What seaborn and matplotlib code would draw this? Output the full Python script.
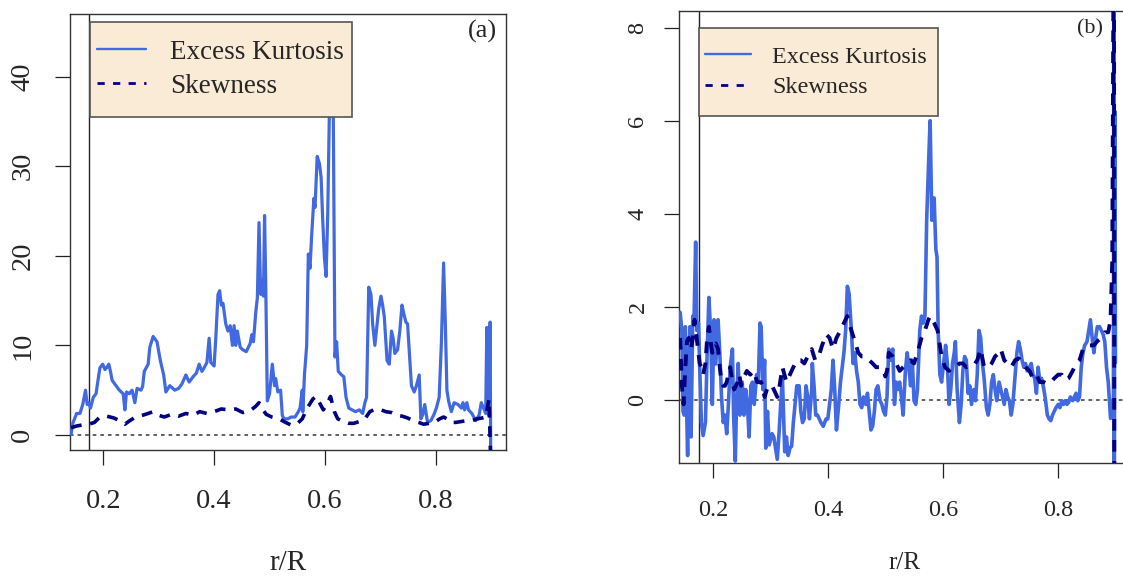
import numpy as np
import matplotlib
matplotlib.use("Agg")
import matplotlib.pyplot as plt
from matplotlib.patches import Rectangle
import seaborn as sns

# ---------------- data ----------------
# Panel (a)
a_kurt_x = [0.142,0.145,0.152,0.158,0.163,0.168,0.171,0.174,0.177,0.182,0.187,0.190,0.194,0.199,0.203,0.206,0.210,0.213,0.216,0.223,
            0.229,0.236,0.239,0.242,0.247,0.252,0.257,0.261,0.268,0.271,0.274,0.281,0.284,0.290,0.297,0.303,0.309,0.313,0.320,0.329,
            0.336,0.342,0.349,0.355,0.362,0.368,0.373,0.378,0.382,0.387,0.391,0.394,0.400,0.403,0.407,0.410,0.413,0.416,0.421,0.425,
            0.429,0.433,0.436,0.439,0.442,0.447,0.452,0.458,0.465,0.468,0.471,0.475,0.478,0.481,0.484,0.486,0.489,0.491,0.493,0.496,
            0.500,0.505,0.509,0.511,0.515,0.520,0.523,0.526,0.533,0.539,0.546,0.552,0.555,0.559,0.560,0.563,0.567,0.570,0.573,0.576,
            0.580,0.582,0.586,0.590,0.593,0.596,0.599,0.602,0.605,0.608,0.611,0.615,0.618,0.621,0.624,0.630,0.634,0.638,0.643,0.649,
            0.655,0.662,0.668,0.672,0.675,0.679,0.683,0.686,0.690,0.694,0.697,0.701,0.704,0.707,0.712,0.716,0.720,0.723,0.726,0.731,
            0.735,0.739,0.742,0.746,0.749,0.752,0.756,0.761,0.765,0.770,0.773,0.776,0.780,0.785,0.791,0.796,0.801,0.806,0.810,0.814,
            0.817,0.820,0.823,0.828,0.833,0.840,0.846,0.849,0.852,0.856,0.859,0.865,0.872,0.878,0.882,0.886,0.890,0.892,0.895,0.898,0.899]
a_kurt_y = [0.1,1.3,2.4,2.4,3.4,5.0,3.4,3.6,3.0,4.2,4.6,5.9,7.5,7.9,7.3,7.5,7.9,7.1,6.1,5.5,
            5.0,4.6,2.8,4.8,4.6,5.0,3.6,5.2,5.0,5.4,7.1,7.9,9.8,11.0,10.4,8.3,6.7,4.8,5.5,5.0,
            5.2,5.7,6.7,5.9,6.5,6.9,7.9,7.1,7.5,8.1,10.8,8.1,7.7,10.8,15.7,16.1,14.5,14.7,12.4,11.6,
            12.2,10.0,12.2,10.0,11.6,9.8,9.5,9.3,10.2,11.2,10.4,13.6,15.3,23.7,15.7,17.3,15.5,24.5,17.3,3.8,
            4.6,7.9,5.5,6.3,4.8,5.0,2.2,1.8,1.8,2.0,2.0,2.6,3.0,5.0,2.6,6.7,10.0,20.2,18.6,22.3,
            26.4,25.4,31.1,30.3,28.8,23.9,19.8,17.7,24.7,36.2,40.0,36.0,8.7,10.4,7.1,6.7,6.5,4.2,3.0,2.8,
            2.6,2.8,2.4,3.6,4.2,16.5,15.7,12.4,10.0,12.4,14.1,15.5,14.5,13.2,8.3,7.9,11.6,10.8,9.1,9.5,
            11.6,14.5,13.6,12.6,12.4,9.5,5.5,4.8,5.5,6.7,1.8,2.2,3.4,1.4,1.6,2.2,3.0,4.2,10.2,19.2,
            12.8,5.0,3.8,2.6,3.6,3.4,3.0,3.6,2.8,3.6,2.8,2.4,1.6,2.2,3.6,3.0,2.4,12.0,2.2,12.6,-3.0]

a_skew_x = [0.142,0.152,0.161,0.174,0.184,0.194,0.206,0.219,0.229,0.239,0.248,0.258,0.271,0.281,0.290,0.300,0.310,0.323,0.336,0.349,
            0.362,0.374,0.387,0.400,0.413,0.426,0.439,0.452,0.465,0.475,0.481,0.487,0.494,0.504,0.517,0.529,0.539,0.549,0.559,0.568,
            0.578,0.584,0.591,0.597,0.604,0.610,0.617,0.623,0.633,0.643,0.652,0.662,0.672,0.681,0.691,0.701,0.710,0.720,0.730,0.739,
            0.749,0.759,0.769,0.778,0.788,0.797,0.807,0.814,0.820,0.827,0.836,0.846,0.856,0.865,0.875,0.884,0.890,0.896,0.899]
a_skew_y = [0.8,1.0,1.1,1.2,1.4,2.0,2.1,1.9,1.6,1.2,1.6,2.0,2.2,2.4,2.6,2.2,2.0,2.3,2.1,2.4,
            2.2,2.6,2.4,2.6,2.9,2.8,2.9,2.5,2.7,3.2,3.6,2.9,2.3,2.0,1.8,1.4,1.1,1.2,1.8,3.0,
            4.0,4.3,3.5,2.8,3.5,4.3,2.6,1.8,1.5,1.3,1.3,1.5,1.8,2.6,2.9,2.8,2.6,2.5,2.2,2.1,
            1.9,1.6,1.4,1.2,1.3,1.4,1.8,2.0,1.8,1.4,1.4,1.5,1.6,1.6,1.8,1.9,2.0,4.0,-3.0]

# Panel (b)
b_kurt_x = [0.142,0.145,0.147,0.149,0.151,0.153,0.155,0.157,0.159,0.161,0.164,0.166,0.169,0.171,0.174,0.176,0.179,0.182,0.186,0.189,
            0.192,0.195,0.198,0.201,0.204,0.208,0.211,0.214,0.217,0.220,0.223,0.226,0.229,0.233,0.235,0.238,0.240,0.243,0.246,0.250,
            0.253,0.256,0.259,0.262,0.265,0.268,0.271,0.275,0.278,0.281,0.283,0.286,0.289,0.291,0.294,0.297,0.302,0.305,0.308,0.311,
            0.314,0.317,0.320,0.324,0.327,0.330,0.333,0.336,0.339,0.342,0.345,0.349,0.352,0.355,0.358,0.361,0.364,0.367,0.371,0.372,
            0.375,0.378,0.381,0.384,0.387,0.391,0.396,0.399,0.402,0.405,0.408,0.411,0.414,0.418,0.421,0.424,0.427,0.430,0.433,0.436,
            0.440,0.443,0.446,0.449,0.452,0.455,0.458,0.461,0.465,0.468,0.471,0.474,0.477,0.480,0.483,0.486,0.490,0.493,0.496,0.499,
            0.502,0.505,0.508,0.512,0.515,0.518,0.521,0.524,0.527,0.530,0.534,0.537,0.540,0.543,0.546,0.549,0.552,0.555,0.559,0.562,
            0.565,0.568,0.571,0.574,0.577,0.580,0.584,0.587,0.589,0.591,0.594,0.597,0.601,0.604,0.607,0.610,0.613,0.616,0.619,0.621,
            0.624,0.628,0.631,0.634,0.637,0.640,0.643,0.646,0.649,0.653,0.656,0.659,0.662,0.665,0.668,0.671,0.675,0.678,0.681,0.684,
            0.687,0.690,0.693,0.697,0.700,0.703,0.706,0.709,0.712,0.715,0.718,0.721,0.725,0.728,0.731,0.734,0.737,0.740,0.743,0.746,
            0.750,0.753,0.756,0.759,0.762,0.765,0.768,0.771,0.775,0.778,0.781,0.784,0.787,0.790,0.793,0.796,0.800,0.803,0.806,0.809,
            0.812,0.815,0.818,0.821,0.825,0.828,0.831,0.834,0.837,0.840,0.843,0.846,0.850,0.853,0.856,0.859,0.862,0.865,0.868,0.872,
            0.875,0.878,0.881,0.884,0.887,0.891,0.894,0.896,0.897,0.8975,0.8985,0.8995]
b_kurt_y = [1.88,1.49,-0.25,-0.33,1.57,0.0,-1.2,0.70,1.57,-0.80,1.80,1.65,3.39,1.49,1.65,0.70,-0.49,-0.77,-0.49,1.0,
            2.20,1.49,-0.10,1.72,0.77,1.72,1.01,0.06,-0.49,-0.33,-0.73,-0.10,0.70,1.09,-0.33,-1.32,-0.10,0.78,-0.33,0.38,
            -0.33,0.22,-0.10,-0.80,0.30,0.38,-0.10,0.54,0.38,1.65,1.57,0.22,0.85,-1.04,-0.25,-0.97,-0.73,-0.80,-1.04,-1.28,
            -0.73,-0.10,0.46,-1.12,-0.80,-1.20,-1.04,-1.00,-0.49,-0.10,0.30,0.30,-0.25,-0.49,-0.41,0.30,0.06,-0.41,0.22,0.78,
            0.30,-0.33,-0.33,-0.41,-0.49,-0.57,-0.41,-0.41,-0.10,0.22,0.85,0.22,-0.65,-0.10,0.38,0.70,1.01,1.49,2.44,2.28,
            1.49,0.78,1.01,0.62,0.38,-0.10,-0.17,0.06,-0.10,0.14,-0.25,-0.65,-0.57,-0.25,0.22,0.30,-0.02,-0.10,-0.25,-0.33,
            0.06,1.09,0.85,1.09,-0.10,0.38,0.22,0.38,0.06,-0.33,0.62,1.01,0.70,0.30,0.85,-0.02,-0.10,0.22,1.49,1.80,
            1.65,1.80,3.86,4.97,6.00,3.86,4.34,3.23,3.07,1.49,0.54,0.38,0.85,1.17,0.78,-0.10,0.22,0.78,1.01,1.25,
            0.22,-0.49,-0.10,0.62,0.93,0.85,0.14,0.30,-0.10,0.22,-0.02,0.54,1.49,1.33,0.78,0.46,-0.17,-0.33,-0.10,0.38,
            0.54,0.22,-0.02,0.38,0.22,0.06,-0.10,0.22,0.06,-0.02,-0.33,-0.10,0.54,1.01,1.25,1.09,0.85,0.70,0.78,0.62,
            0.70,0.78,0.54,0.46,0.14,0.70,0.38,0.46,0.22,-0.02,-0.33,-0.41,-0.45,-0.33,-0.25,-0.17,-0.10,-0.17,-0.02,-0.10,
            -0.02,-0.10,-0.06,0.06,-0.02,0.06,0.14,-0.02,0.06,0.70,1.01,1.17,1.25,1.49,1.72,1.33,1.01,1.33,1.57,1.57,
            1.49,1.41,1.25,0.70,0.38,-0.40,-0.33,0.06,12.0,-2.5,6.2,0.8]

b_skew_x = [0.142,0.145,0.148,0.151,0.154,0.157,0.161,0.164,0.167,0.170,0.173,0.176,0.179,0.182,0.186,0.189,0.192,0.195,0.198,0.201,
            0.204,0.208,0.211,0.214,0.217,0.220,0.223,0.226,0.229,0.233,0.236,0.239,0.242,0.245,0.248,0.251,0.255,0.258,0.264,0.270,
            0.276,0.283,0.286,0.289,0.295,0.302,0.308,0.311,0.314,0.320,0.327,0.333,0.339,0.345,0.352,0.358,0.364,0.371,0.377,0.383,
            0.389,0.396,0.402,0.408,0.414,0.421,0.427,0.433,0.440,0.446,0.452,0.458,0.465,0.471,0.477,0.483,0.490,0.496,0.499,0.502,
            0.505,0.512,0.518,0.524,0.530,0.537,0.543,0.549,0.555,0.562,0.568,0.574,0.577,0.584,0.590,0.597,0.603,0.610,0.616,0.621,
            0.628,0.634,0.640,0.646,0.653,0.659,0.665,0.671,0.678,0.684,0.690,0.697,0.700,0.706,0.712,0.718,0.725,0.731,0.737,0.743,
            0.750,0.756,0.762,0.768,0.775,0.781,0.787,0.793,0.800,0.806,0.812,0.818,0.825,0.831,0.837,0.843,0.850,0.856,0.862,0.868,
            0.875,0.881,0.887,0.891,0.894,0.897,0.8975]
b_skew_y = [1.33,0.30,-0.10,0.70,1.26,1.33,1.09,1.33,1.72,1.41,1.09,0.78,0.70,0.54,0.78,1.33,1.57,1.26,1.01,1.17,
            1.21,1.09,0.70,0.38,0.30,0.30,0.38,0.54,0.70,0.38,0.22,0.30,0.38,0.54,0.30,0.46,0.54,0.62,0.54,0.62,
            0.38,0.38,0.22,0.06,0.30,0.30,0.14,0.06,0.22,0.70,0.38,0.54,0.70,0.85,0.85,0.78,0.93,1.09,0.85,0.93,
            1.17,1.41,1.33,1.09,1.33,1.49,1.65,1.80,1.49,1.26,1.01,0.93,0.93,0.85,0.78,0.70,0.70,0.62,0.50,0.62,
            1.01,0.93,0.78,0.62,0.70,0.78,0.85,0.78,1.01,1.33,1.49,1.72,1.80,1.65,1.49,0.93,0.70,0.62,0.70,0.70,
            0.78,0.78,0.70,0.74,0.74,0.85,1.09,0.70,0.70,0.78,0.93,1.01,1.09,0.85,0.78,0.70,0.85,0.89,0.78,0.70,
            0.62,0.46,0.54,0.38,0.38,0.34,0.38,0.46,0.54,0.54,0.42,0.46,0.62,0.78,0.85,1.09,1.17,1.17,1.17,1.26,
            1.33,1.45,1.45,1.72,3.0,12.0,-2.5]

x_ticks = [0.2, 0.4, 0.6, 0.8]
a_yticks = [0, 10, 20, 30, 40]
b_yticks = [0, 2, 4, 6, 8]
series_labels = ["Excess Kurtosis", "Skewness"]
panel_tags = ["(a)", "(b)"]
x_label = "r/R"
ref_x = 0.175

# ---------------- style ----------------
sns.set_theme(style="white")
plt.rcParams['font.family'] = ['Liberation Serif', 'DejaVu Serif']
plt.rcParams['axes.unicode_minus'] = False

KURT_C = "#4169E1"
SKEW_C = "#000080"
W, H = 1123, 576
fig = plt.figure(figsize=(W / 100, H / 100), dpi=100)

def px_axes(l, t, r, b):
    return fig.add_axes([l / W, 1 - b / H, (r - l) / W, (b - t) / H])

ax_a = px_axes(70, 14, 506, 450)
ax_b = px_axes(679, 11, 1131, 463)

cfg = [
    dict(ax=ax_a, kx=a_kurt_x, ky=a_kurt_y, sx=a_skew_x, sy=a_skew_y, ylim=(-1.68, 47.0), yt=a_yticks,
         tickfs=20.5, legfs=19.5, padx=17, pady=14, lw_k=2.3, lw_s=2.6,
         frame=(0.046, 0.764, 0.601, 0.218), leg_anchor=(0.062, 0.873), hl=1.8, htp=0.89, ls=0.33,
         tag=panel_tags[0], tagpos=(0.947, 0.961), tagfs=19, xlpos=(0.5, -0.259), xlfs=21),
    dict(ax=ax_b, kx=b_kurt_x, ky=b_kurt_y, sx=b_skew_x, sy=b_skew_y, ylim=(-1.36, 8.36), yt=b_yticks,
         tickfs=17.5, legfs=17.4, padx=15.5, pady=11, lw_k=2.6, lw_s=2.8,
         frame=(0.0442, 0.7677, 0.529, 0.1947), leg_anchor=(0.0575, 0.865), hl=1.9, htp=0.87, ls=0.355,
         tag=panel_tags[1], tagpos=(0.909, 0.960), tagfs=16, xlpos=(0.5, -0.221), xlfs=18),
]

for c in cfg:
    ax = c["ax"]
    ax.set_facecolor("white")
    ax.axhline(0, color="#555555", lw=1.3, ls=(0, (2, 2.2)), zorder=1)
    ax.axvline(ref_x, color="#222222", lw=1.0, zorder=1)
    sns.lineplot(x=c["kx"], y=c["ky"], ax=ax, color=KURT_C, lw=c["lw_k"], estimator=None, sort=False,
                 label=series_labels[0], zorder=3)
    sns.lineplot(x=c["sx"], y=c["sy"], ax=ax, color=SKEW_C, lw=c["lw_s"], estimator=None, sort=False,
                 label=series_labels[1], zorder=4)
    ax.lines[-1].set_dashes((3, 2.4))
    ax.set_xlim(0.140, 0.9266)
    ax.set_ylim(*c["ylim"])
    ax.set_xticks(x_ticks)
    ax.set_xticklabels([f"{t:.1f}" for t in x_ticks])
    ax.set_yticks(c["yt"])
    ax.set_yticklabels([str(t) for t in c["yt"]], rotation=90, va="center")
    ax.tick_params(axis="both", which="both", direction="out", length=11, width=0.9,
                   color="#222222", labelsize=c["tickfs"], left=True, bottom=True)
    ax.tick_params(axis="x", pad=c["padx"])
    ax.tick_params(axis="y", pad=c["pady"])
    for s in ax.spines.values():
        s.set_visible(True)
        s.set_color("#333333")
        s.set_linewidth(1.0)
    ax.set_xlabel(x_label, fontsize=c["xlfs"], va="center")
    ax.xaxis.set_label_coords(*c["xlpos"])
    ax.set_ylabel("")

    # legend frame (R-style box) + frameless legend contents
    fx, fy, fw, fh = c["frame"]
    ax.add_patch(Rectangle((fx, fy), fw, fh, transform=ax.transAxes, facecolor="#FAEBD7",
                           edgecolor="#555555", lw=1.2, zorder=9))
    leg = ax.legend(loc="center left", bbox_to_anchor=c["leg_anchor"], borderaxespad=0,
                    borderpad=0, fontsize=c["legfs"], frameon=False, handlelength=c["hl"],
                    handletextpad=c["htp"], labelspacing=c["ls"])
    leg.set_zorder(10)
    hl = leg.get_lines()
    hl[0].set_linewidth(1.7)
    hl[1].set_linewidth(2.0)
    hl[1].set_dashes((2.6, 3.0))

    ax.text(*c["tagpos"], c["tag"], transform=ax.transAxes, ha="center", va="center",
            fontsize=c["tagfs"], zorder=11)

fig.savefig("out.png", dpi=100)
